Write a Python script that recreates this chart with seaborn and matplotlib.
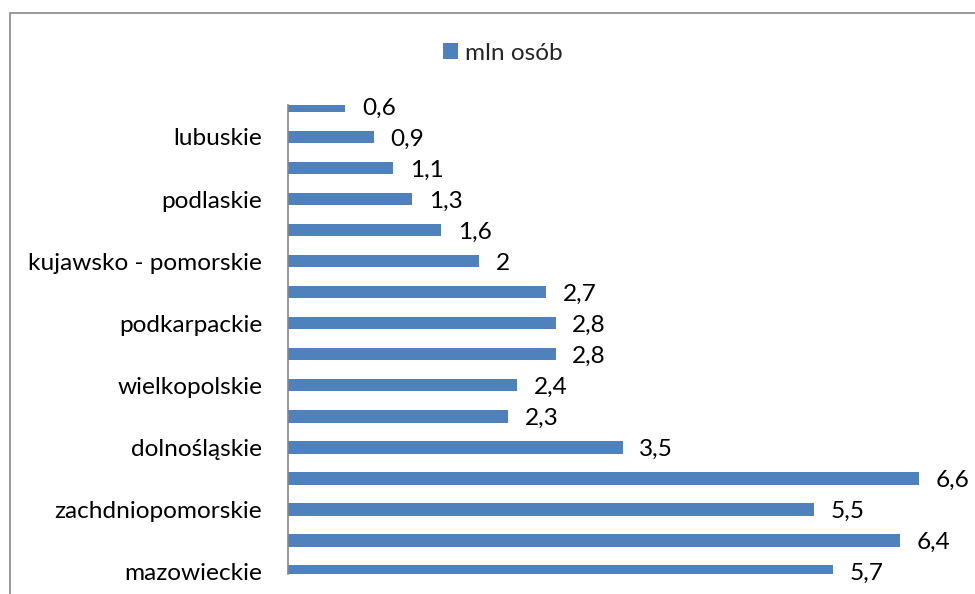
import numpy as np
import pandas as pd
import matplotlib.pyplot as plt
import matplotlib.patches as mpatches
import seaborn as sns

# categories from top to bottom (only every other name is shown on the axis)
regions = [
    "opolskie", "lubuskie", "świętokrzyskie", "podlaskie",
    "warmińsko-mazurskie", "kujawsko - pomorskie", "lubelskie", "podkarpackie",
    "pomorskie", "wielkopolskie", "łódzkie", "dolnośląskie",
    "małopolskie", "zachdniopomorskie", "śląskie", "mazowieckie",
]
values = [0.6, 0.9, 1.1, 1.3, 1.6, 2, 2.7, 2.8, 2.8, 2.4, 2.3, 3.5, 6.6, 5.5, 6.4, 5.7]
shown = [False, True, False, True, False, True, False, True,
         False, True, False, True, False, True, False, True]
series_name = "mln osób"

df = pd.DataFrame({"region": regions, "value": values})

sns.set_style("white")
plt.rcParams["font.family"] = ["Lato", "DejaVu Sans"]
fs = 17.6

W, H = 975, 594
fig = plt.figure(figsize=(W / 100, H / 100), dpi=100)
ax = fig.add_axes([288 / W, (H - 573.7) / H, 7.0 * 95.6 / W, 468.7 / H])

sns.barplot(
    data=df, x="value", y="region", orient="h",
    color="#4F81BD", saturation=1, width=0.4, linewidth=0,
    label=series_name, ax=ax,
)
if ax.get_legend() is not None:
    ax.get_legend().remove()

ax.set_xlim(0, 7.0)
ax.set_ylim(15.07, -0.03)
ax.set_xlabel("")
ax.set_ylabel("")
ax.set_xticks([])
ax.set_yticks(range(len(regions)))
ax.set_yticklabels([r if s else "" for r, s in zip(regions, shown)], fontsize=fs)
ax.tick_params(axis="y", length=0, pad=18.5, labelcolor="black")

for side in ["top", "right", "bottom"]:
    ax.spines[side].set_visible(False)
ax.spines["left"].set_color("#868686")
ax.spines["left"].set_linewidth(1.2)

labels = [f"{v:g}".replace(".", ",") for v in values]
anns = ax.bar_label(ax.containers[0], labels=labels, padding=12, fontsize=fs,
                    color="black")
for a in anns:
    a.xyann = (12, -1.5)

# chart frame (cut by the picture on the right and bottom)
frame = mpatches.Rectangle((9.7 / W, -0.1), 2, 1.1 - 12.7 / H,
                           transform=fig.transFigure, fill=False,
                           edgecolor="#878787", linewidth=1.2)
fig.patches.append(frame)

fig.legend(handles=ax.containers[0].patches[:1], labels=[series_name],
           loc="center", bbox_to_anchor=(502.7 / W, 1 - 53 / H), frameon=False,
           fontsize=fs, handlelength=0.6, handleheight=0.6, handletextpad=0.3,
           borderpad=0, borderaxespad=0)

fig.savefig("out.png", dpi=100)
